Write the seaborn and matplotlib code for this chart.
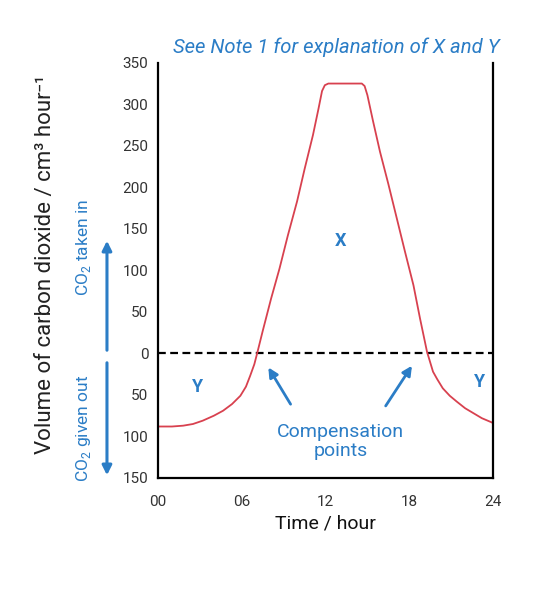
import pandas as pd
import matplotlib.pyplot as plt
import matplotlib.patches as mpatches
import seaborn as sns

# values (hour of day, CO2 exchange; negative = given out)
hours = [0, 1.0, 1.8, 2.5, 3.2, 4.0, 4.66, 5.3, 5.9, 6.3, 6.6, 6.9, 7.1, 7.5, 8.1,
         8.7, 9.3, 9.96, 10.5, 11.1, 11.5, 11.75, 11.95, 12.2, 13.4, 14.6, 14.8,
         15.0, 15.4, 15.9, 16.5, 17.1, 17.7, 18.3, 18.77, 19.27, 19.7, 20.0, 20.4,
         20.9, 21.4, 22.0, 22.6, 23.2, 23.9, 24]
co2 = [-88, -88, -87, -85, -81, -75, -69, -61, -51, -40, -27, -13, 0, 27, 66,
       102, 142, 183, 222, 263, 295, 316, 323, 325, 325, 325, 322,
       311, 280, 243, 204, 163, 122, 82, 42, 2, -22, -31, -42,
       -51, -58, -66, -72, -78, -83, -84]

xticks = [0, 6, 12, 18, 24]
xticklabels = ['00', '06', '12', '18', '24']
yticks = [-150, -100, -50, 0, 50, 100, 150, 200, 250, 300, 350]
yticklabels = ['150', '100', '50', '0', '50', '100', '150', '200', '250', '300', '350']

RED = '#d8414f'
BLUE = '#2b7dc6'

sns.set_style('white')
plt.rcParams['font.family'] = ['Roboto', 'DejaVu Sans']
plt.rcParams['mathtext.fontset'] = 'custom'
plt.rcParams['mathtext.rm'] = 'Roboto'

df = pd.DataFrame({'hour': hours, 'co2': co2})

fig = plt.figure(figsize=(5.43, 5.94), dpi=100)
ax = fig.add_axes([0.291, 0.1953, 0.617, 0.699])

sns.lineplot(data=df, x='hour', y='co2', color=RED, lw=1.3, ax=ax)
ax.axhline(0, color='black', lw=1.6, ls=(0, (3.5, 2)), zorder=1)

ax.set_xlim(0, 24)
ax.set_ylim(-150, 350)
ax.set_xticks(xticks)
ax.set_xticklabels(xticklabels, fontsize=11, color='#333333')
ax.set_yticks(yticks)
ax.set_yticklabels(yticklabels, fontsize=11, color='#333333')
ax.tick_params(axis='both', direction='out', length=6, width=1.6, color='black')
ax.tick_params(axis='x', pad=6)
ax.tick_params(axis='y', pad=1)
ax.set_xlabel('Time / hour', fontsize=14, labelpad=4, color='#111111')
ax.set_ylabel('')

for s in ['left', 'bottom', 'right']:
    ax.spines[s].set_color('black')
    ax.spines[s].set_linewidth(1.6)
ax.spines['top'].set_visible(False)

# annotations inside the plot
ax.text(13.1, 135, 'X', color=BLUE, fontsize=13, fontweight='bold', ha='center', va='center')
ax.text(2.8, -40, 'Y', color=BLUE, fontsize=13, fontweight='bold', ha='center', va='center')
ax.text(23.0, -34, 'Y', color=BLUE, fontsize=13, fontweight='bold', ha='center', va='center')
ax.text(13.1, -106, 'Compensation\npoints', color=BLUE, fontsize=14, ha='center', va='center',
        linespacing=1.1)
ax.annotate('', xy=(7.8, -14), xytext=(9.6, -64),
            arrowprops=dict(arrowstyle='-|>', color=BLUE, lw=2, mutation_scale=14))
ax.annotate('', xy=(18.3, -12), xytext=(16.2, -66),
            arrowprops=dict(arrowstyle='-|>', color=BLUE, lw=2, mutation_scale=14))

# header note
fig.text(0.619, 0.921, 'See Note 1 for explanation of X and Y', color=BLUE, fontsize=14.6,
         style='italic', ha='center', va='center')

# y axis titles and direction arrows
fig.text(0.083, 0.554, 'Volume of carbon dioxide / cm³ hour⁻¹', rotation=90,
         fontsize=16, ha='center', va='center', color='#222222')
fig.text(0.153, 0.584, 'CO$_2$ taken in', rotation=90, fontsize=12.5, color=BLUE,
         ha='center', va='center')
fig.text(0.153, 0.279, 'CO$_2$ given out', rotation=90, fontsize=12.5, color=BLUE,
         ha='center', va='center')
fig.add_artist(mpatches.FancyArrowPatch(
    (0.197, 1 - 353 / 594), (0.197, 1 - 238 / 594), transform=fig.transFigure,
    arrowstyle='-|>', color=BLUE, lw=2.2, mutation_scale=14))
fig.add_artist(mpatches.FancyArrowPatch(
    (0.197, 1 - 360 / 594), (0.197, 1 - 478 / 594), transform=fig.transFigure,
    arrowstyle='-|>', color=BLUE, lw=2.2, mutation_scale=14))

fig.savefig('out.png', dpi=100)
